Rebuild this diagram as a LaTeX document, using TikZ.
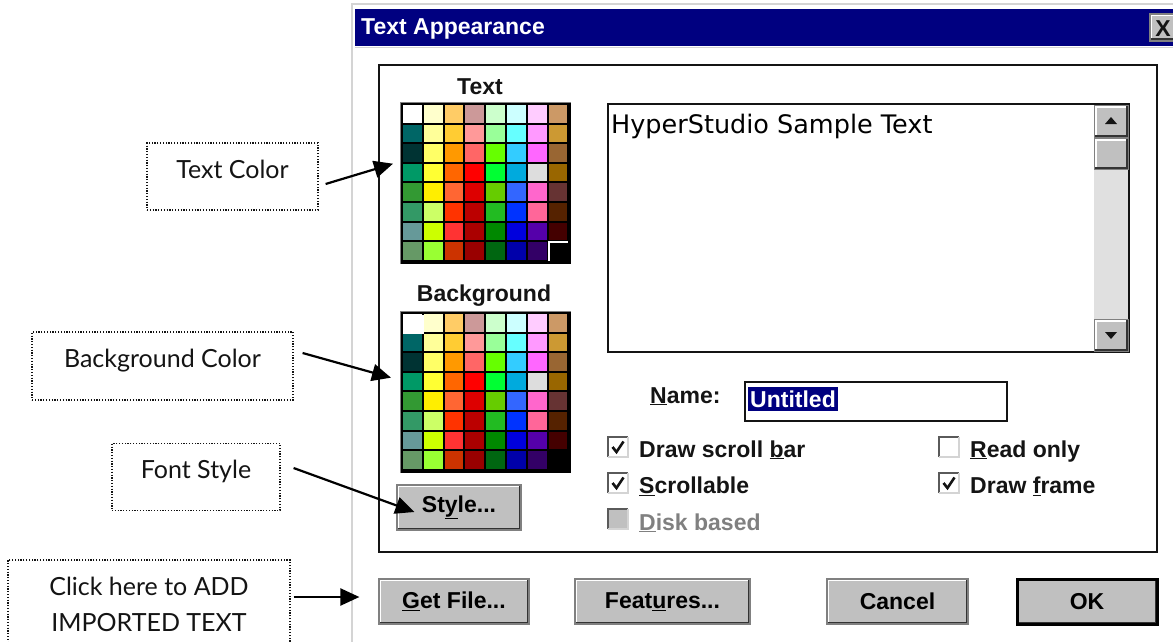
\documentclass[tikz,border=0pt]{standalone}
\usepackage{fontspec}
\setmainfont{Liberation Sans}
\newfontfamily\notefont{Lato}
\newfontfamily\samplefont{DejaVu Sans}
\usetikzlibrary{arrows.meta,positioning}
\definecolor{winnavy}{RGB}{0,0,128}
\definecolor{btnface}{RGB}{192,192,192}
\definecolor{btngray}{RGB}{128,128,128}
\definecolor{btnlight}{RGB}{212,212,212}
\definecolor{scrolltrack}{RGB}{224,224,224}
\definecolor{ink}{RGB}{20,20,20}
\newcommand\dlgfont{\fontsize{23}{27}\selectfont\bfseries}
\def\palrows{{FFFFFF,FFFFCC,FFCC66,CC9999,CCFFCC,CCFFFF,FFCCFF,CC9966},%
{006666,FFFF99,FFCC33,FF9999,99FF99,66FFFF,FF99FF,CC9933},%
{003333,FFFF66,FF9900,FF6666,66FF00,33CCFF,FF66FF,996633},%
{009966,FFFF33,FF6600,FF0000,00FF33,00AADD,DDDDDD,996600},%
{339933,FFEE00,FF6633,DD0000,66CC00,3366FF,FF66CC,663333},%
{339966,CCFF66,FF3300,BB0000,22BB22,0033FF,FF6699,552200},%
{669999,CCFF00,FF3333,AA0000,008800,0000DD,5500AA,440000},%
{669966,99FF33,CC3300,990000,006611,0000AA,330066,000000}}
\tikzset{
  note/.style={draw=ink,line width=1.2pt,dash pattern=on 1.2pt off 1.6pt,align=center,
    inner sep=0pt,font=\notefont\fontsize{25}{36}\selectfont,text=ink},
  lifted/.style={text height=0.75em,text depth=0.45em},
  pointer/.style={-{Triangle[length=19pt,width=17pt]},line width=2.2pt,draw=black},
  bevel/.style={fill=btnface,draw=#1,line width=1.2pt,inner sep=0pt,
    path picture={
      \draw[white,line width=4pt] (path picture bounding box.south west) |- (path picture bounding box.north east);
      \draw[black!80,line width=5pt] (path picture bounding box.south west) -| (path picture bounding box.north east);}},
  bevel/.default=btngray,
  button/.style={bevel,minimum width=#1,minimum height=45pt,font=\dlgfont},
  dlgtext/.style={font=\dlgfont,inner sep=0pt,text=ink},
  % widgets
  pics/palette/.style={code={
    \fill[black] (-1.5,-1.5) rectangle (169,159.5);
    \draw[btngray,line width=1pt] (-2,160) -- (-2,-2) -- (169,-2);
    \foreach \cells [count=\py from 0] in \palrows {
      \foreach \hex [count=\px from 0] in \cells {
        \edef\setcell{\noexpand\definecolor{cell}{HTML}{\hex}}\setcell
        \fill[cell] (\px*20.8+1,\py*19.6+1) rectangle ++(18.8,17.6);
      }
    }
    \node[inner sep=0pt,minimum width=166pt,minimum height=157pt,anchor=north west] (-area) at (0,0) {};
  }},
  pics/checkbox/.style={code={
    \fill[#1] (0,0) rectangle (20,20);
    \draw[btngray!70!black,line width=1.6pt] (0,20) -- (0,0) -- (20,0);
    \draw[btnlight,line width=1.6pt] (20,0) -- (20,20) -- (0,20);
  }},
  pics/checkbox/.default=white,
  pics/tick/.style={code={\draw[ink,line width=2.6pt] (4.5,10) -- (8.5,15) -- (15.5,4.5);}},
}

\begin{document}
\begin{tikzpicture}[x=1pt,y=-1pt]
  \fill[white] (0,0) rectangle (1173,642);
  \useasboundingbox (0,0) rectangle (1173,642);
  % window
  \draw[btnlight,line width=2.5pt] (352,642) -- (352,4) -- (1173,4);
  \fill[winnavy] (355,9) rectangle (1173,46);
  \draw[btnlight,line width=1pt] (355,48) -- (1173,48);
  \node[dlgtext,text=white,anchor=base west] (title) at (361,35) {Text Appearance};
  \node[bevel,minimum width=36pt,minimum height=27pt] (close) at (1168,27.5) {};
  \node[dlgtext,anchor=base] (closex) at (1163,37) {X};
  \draw[ink,line width=2pt] (379,65) rectangle (1157,552);

  % colour palettes
  \node[dlgtext,anchor=base] (textlbl) at (480,95) {Text};
  \pic (textpal) at (402,104) {palette};
  \draw[white,line width=1.8pt] (548.6,261) |- (568,242.2);
  \node[dlgtext,anchor=base] (bglbl) at (484,301) {Background};
  \pic (bgpal) at (402,313) {palette};
  \fill[white] (403,315) rectangle (424,334);

  % sample text field
  \draw[ink,line width=2pt] (608,104) rectangle (1129,352);
  \node[font=\samplefont\fontsize{25.5}{30}\selectfont,anchor=base west,inner sep=0pt] (sample) at (611,133) {HyperStudio Sample Text};
  \fill[scrolltrack] (1094,137) rectangle (1128,321);
  \node[bevel,minimum width=34pt,minimum height=32pt,anchor=north west] (up) at (1094,105) {};
  \node[bevel,minimum width=34pt,minimum height=31pt,anchor=north west] (thumb) at (1094,138) {};
  \node[bevel,minimum width=34pt,minimum height=32pt,anchor=north west] (down) at (1094,319) {};
  \fill[ink] (1105,124) -- (1117,124) -- (1111,117) -- cycle;
  \fill[ink] (1105,332) -- (1117,332) -- (1111,339) -- cycle;

  % name and options
  \node[dlgtext,anchor=base west] (namelbl) at (650,403) {\underline{N}ame:};
  \node[draw=ink,line width=2pt,minimum width=262pt,minimum height=39pt,anchor=north west] (namebox) at (744,381) {};
  \node[fill=winnavy,text=white,font=\dlgfont,inner sep=2pt,minimum height=24pt,anchor=west] (untitled) at (748,399) {Untitled};
  \pic at (608,437) {checkbox}; \pic at (608,437) {tick};
  \pic at (608,473) {checkbox}; \pic at (608,473) {tick};
  \pic at (608,509) {checkbox=btnface};
  \pic at (939,437) {checkbox};
  \pic at (939,473) {checkbox}; \pic at (939,473) {tick};
  \node[dlgtext,anchor=base west] (scrollbar) at (639,457) {Draw scroll \underline{b}ar};
  \node[dlgtext,anchor=base west] (scrollable) at (639,493.5) {\underline{S}crollable};
  \node[dlgtext,anchor=base west,text=btngray] (disk) at (639,530) {\underline{D}isk based};
  \node[dlgtext,anchor=base west] (readonly) at (970,457) {\underline{R}ead only};
  \node[dlgtext,anchor=base west] (drawframe) at (970,493.5) {Draw \underline{f}rame};

  % buttons
  \node[button=124pt] (style) at (459,507.5) {St\underline{y}le...};
  \node[button=150pt] (getfile) at (454,601.5) {\underline{G}et File...};
  \node[button=175pt] (features) at (662.5,601.5) {Feat\underline{u}res...};
  \node[button=141pt] (cancel) at (897.5,601.5) {Cancel};
  \node[button=140pt,bevel=black,line width=3pt] (ok) at (1087,601.5) {OK};

  % callouts
  \node[note,lifted,minimum width=171pt,minimum height=67pt] (tcnote) at (232.5,176.5) {Text Color};
  \node[note,lifted,minimum width=261pt,minimum height=68pt] (bcnote) at (162.5,366) {Background Color};
  \node[note,lifted,minimum width=168pt,minimum height=67pt] (fsnote) at (196,477) {Font Style};
  \node[note,minimum width=282pt,minimum height=88pt] (addnote) at (149,604) {Click here to ADD\\IMPORTED TEXT};
  \draw[pointer] ([xshift=7pt,yshift=-7.5pt]tcnote.east) -- ([xshift=-9pt,yshift=19pt]textpal-area.west);
  \draw[pointer] ([xshift=9pt,yshift=13pt]bcnote.east) -- ([xshift=-11pt,yshift=14pt]bgpal-area.west);
  \draw[pointer] ([xshift=13pt,yshift=9pt]fsnote.east) -- ([xshift=18pt,yshift=-4.5pt]style.west);
  \draw[pointer] ([xshift=3pt,yshift=7pt]addnote.east) -- ([xshift=-19pt,yshift=4.5pt]getfile.west);
\end{tikzpicture}
\end{document}
